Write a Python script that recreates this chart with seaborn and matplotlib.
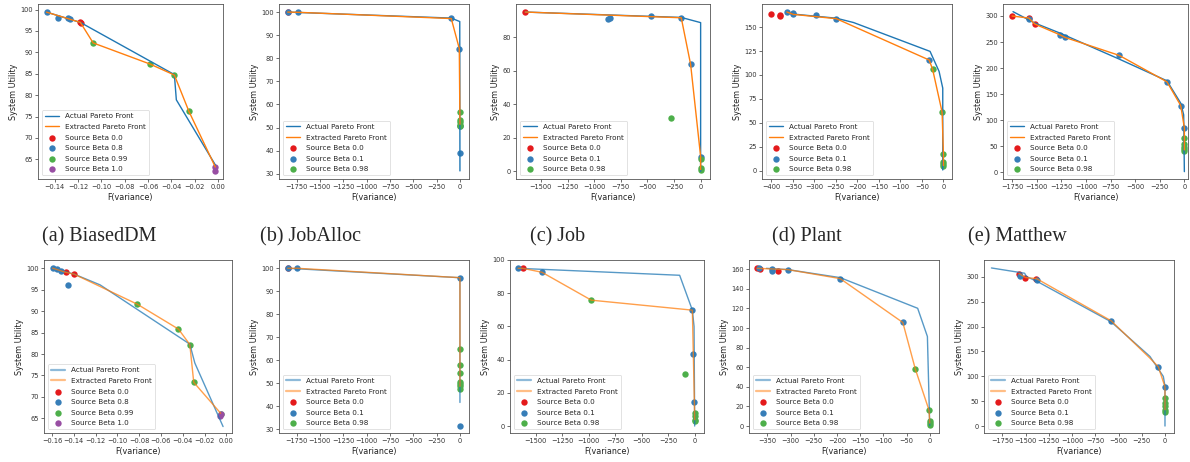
import matplotlib
matplotlib.use("Agg")
import matplotlib.pyplot as plt
import seaborn as sns
from matplotlib.ticker import MultipleLocator

# ==========================================
# DATA ((x, y) pairs)
# ==========================================
# --- top row ---
a1_actual = [(-0.147, 99.4), (-0.118, 97.0), (-0.0374, 84.8), (-0.0357, 78.9), (-0.0023, 63.7)]
a1_extracted = [(-0.147, 99.4), (-0.118, 97.0), (-0.107, 92.2), (-0.0586, 87.3),
                (-0.0374, 84.7), (-0.0249, 76.2), (-0.0023, 63.2)]
a1_b00 = [(-0.1185, 97.1), (-0.1175, 96.9)]
a1_b08 = [(-0.147, 99.4), (-0.137, 98.0), (-0.1286, 98.1), (-0.127, 97.7)]
a1_b099 = [(-0.107, 92.2), (-0.0586, 87.3), (-0.0374, 84.6), (-0.0249, 76.2)]
a1_b10 = [(-0.0023, 63.3), (-0.0028, 62.3)]

b1_actual = [(-1845, 100.0), (-93, 97.4), (-2, 95.9), (0, 31.2)]
b1_extracted = [(-1845, 100.0), (-1731, 99.9), (-93, 97.2), (-7, 84.2), (0, 51.4)]
b1_b00 = [(-1845, 100.0)]
b1_b01 = [(-1845, 100.0), (-1731, 99.9), (-93, 97.3), (-7, 84.2), (0, 50.5), (0, 38.8)]
b1_b098 = [(0, 56.9), (0, 53.3), (0, 52.5), (0, 51.3), (0, 50.8)]

c1_actual = [(-1647, 94.9), (-182, 91.7), (0, 88.6), (0, 0.0)]
c1_extracted = [(-1647, 94.9), (-182, 91.5), (-94, 63.7), (0, 8.8), (0, 1.0)]
c1_b00 = [(-1647, 94.9)]
c1_b01 = [(-866, 90.8), (-848, 91.6), (-470, 92.3), (-182, 91.5), (-94, 63.7), (0, 8.8)]
c1_b098 = [(-279, 31.8), (0, 7.2), (0, 2.2), (0, 1.0)]

d1_actual = [(-364, 165.7), (-349, 163.5), (-249, 159.2), (-209, 154.7), (-31, 124.6),
             (-10, 103.7), (-1.5, 86.3), (-1.5, 1.0)]
d1_extracted = [(-364, 165.7), (-349, 163.2), (-249, 158.7), (-33, 115.6), (-25, 105.8),
                (-3, 61.3), (0, 17.8), (0, 5.6)]
d1_b00 = [(-401, 163.6), (-381, 161.2), (-379, 162.2)]
d1_b01 = [(-364, 165.7), (-349, 163.2), (-349, 164.6), (-297, 162.2), (-249, 158.7), (-33, 115.6)]
d1_b098 = [(-25, 105.8), (-3, 61.3), (0, 17.8), (0, 9.7), (0, 7.3), (0, 5.6)]

e1_actual = [(-1743, 308.3), (-1522, 286.5), (-1267, 267.3), (-663, 217.3), (-177, 175.6),
             (-37, 132.7), (-7, 110.3), (0, 1.3)]
e1_extracted = [(-1753, 300), (-1583, 296), (-1522, 284.6), (-1267, 264), (-1216, 259),
                (-663, 224.4), (-177, 173.7), (-37, 128.2), (0, 85.3), (0, 43)]
e1_b00 = [(-1753, 300), (-1583, 296), (-1522, 284.6)]
e1_b01 = [(-1583, 294.9), (-1267, 264), (-1216, 259), (-663, 224.4), (-177, 173.7),
          (-37, 128.2), (0, 85.3)]
e1_b098 = [(0, 65.4), (0, 54.5), (0, 48), (0, 44.9), (0, 41)]

# --- bottom row ---
a2_actual = [(-0.1594, 100), (-0.1396, 98.6), (-0.1158, 96.1), (-0.0335, 82.3),
             (-0.0289, 77.9), (-0.0030, 63.1)]
a2_extracted = [(-0.1594, 100), (-0.147, 99.0), (-0.1396, 98.6), (-0.0817, 91.6),
                (-0.0439, 85.8), (-0.0335, 82.2), (-0.0299, 73.4), (-0.0052, 66.2)]
a2_b00 = [(-0.147, 99.0), (-0.1396, 98.6)]
a2_b08 = [(-0.1594, 100), (-0.155, 99.8), (-0.1518, 99.3), (-0.1457, 96.0)]
a2_b099 = [(-0.0817, 91.6), (-0.0439, 85.8), (-0.0335, 82.2), (-0.0299, 73.4), (-0.0052, 66.0)]
a2_b10 = [(-0.0052, 66.1), (-0.0058, 65.5)]

b2_actual = [(-1845, 100), (0, 95.9), (0, 41.6)]
b2_extracted = [(-1845, 100), (-1745, 100), (0, 95.9), (0, 48.6)]
b2_b00 = [(-1845, 100)]
b2_b01 = [(-1845, 100), (-1745, 100), (0, 95.9), (0, 31.4)]
b2_b098 = [(0, 64.8), (0, 58.1), (0, 54.6), (0, 50.6), (0, 49.7), (0, 48.6), (0, 47.5)]

c2_actual = [(-1668, 95.0), (-142, 90.8), (-22, 69.8), (-6, 60), (0, 0)]
c2_extracted = [(-1668, 95.0), (-1624, 95.0), (-1442, 92.6), (-976, 75.8), (-22, 69.8),
                (-3, 14.6), (0, 3.8)]
c2_b00 = [(-1624, 95.0)]
c2_b01 = [(-1668, 95.0), (-1442, 92.6), (-22, 69.8), (-13, 43.3), (-3, 14.6)]
c2_b098 = [(-976, 75.8), (-94, 31.1), (0, 7.8), (0, 5.8), (0, 3.8), (0, 2.8)]

d2_actual = [(-352, 161), (-306, 159.7), (-193, 151.5), (-26, 120.2), (-5, 91.4), (0, 0.5)]
d2_extracted = [(-372, 161), (-306, 159.7), (-193, 150.5), (-58, 105.7), (-31, 58.1),
                (-1.4, 16), (0, 3)]
d2_b00 = [(-372, 161), (-365, 160), (-327, 158)]
d2_b01 = [(-367, 161), (-340, 160), (-340, 158.3), (-306, 159.7), (-193, 150.5), (-58, 105.7)]
d2_b098 = [(-31, 58.1), (-1.4, 16), (0, 4.8), (0, 3), (0, 1.4)]

e2_actual = [(-1868, 318), (-1511, 307.4), (-1491, 300.7), (-1373, 290.6), (-579, 209.6),
             (-162, 140), (-18, 99.8), (0, 80), (0, 0)]
e2_extracted = [(-1570, 306.7), (-1502, 298.7), (-1383, 296.6), (-579, 211.6), (-162, 136.6),
                (-72, 119.2), (0, 79), (0, 32.8)]
e2_b00 = [(-1570, 306.7), (-1502, 298.7), (-1383, 296.6)]
e2_b01 = [(-1556, 302.7), (-1373, 293.3), (-579, 211.6), (-72, 119.2), (0, 79)]
e2_b098 = [(0, 56.9), (0, 46.2), (0, 39.5), (0, 32.8), (0, 28.8)]

captions = ["(a) BiasedDM", "(b) JobAlloc", "(c) Job", "(d) Plant", "(e) Matthew"]

# ==========================================
# LAYOUT (pixel boxes: left, right, top, bottom)
# ==========================================
W, H = 1190, 462
set1 = sns.color_palette("Set1")
tab = sns.color_palette("tab10")
beta_colors = {"0.0": set1[0], "0.1": set1[1], "0.8": set1[1],
               "0.98": set1[2], "0.99": set1[2], "1.0": set1[3]}

panels = [
    # top row
    dict(box=(38, 223, 4, 179), actual=a1_actual, extracted=a1_extracted,
         betas=[("0.0", a1_b00), ("0.8", a1_b08), ("0.99", a1_b099), ("1.0", a1_b10)],
         xlim=(-0.1543, 0.0043), ylim=(60.4, 101.3), xstep=0.02, ystep=5, bottom=False),
    dict(box=(279, 469, 4, 179), actual=b1_actual, extracted=b1_extracted,
         betas=[("0.0", b1_b00), ("0.1", b1_b01), ("0.98", b1_b098)],
         xlim=(-1938, 97), ylim=(27.7, 103.5), xstep=250, ystep=10, bottom=False),
    dict(box=(516, 710, 4, 179), actual=c1_actual, extracted=c1_extracted,
         betas=[("0.0", c1_b00), ("0.1", c1_b01), ("0.98", c1_b098)],
         xlim=(-1734, 88), ylim=(-4.6, 99.7), xstep=250, ystep=20, bottom=False),
    dict(box=(762, 952, 4, 179), actual=d1_actual, extracted=d1_extracted,
         betas=[("0.0", d1_b00), ("0.1", d1_b01), ("0.98", d1_b098)],
         xlim=(-421.7, 20), ylim=(-8.4, 174), xstep=50, ystep=25, bottom=False),
    dict(box=(1003, 1188, 4, 179), actual=e1_actual, extracted=e1_extracted,
         betas=[("0.0", e1_b00), ("0.1", e1_b01), ("0.98", e1_b098)],
         xlim=(-1845, 37), ylim=(-12.8, 323), xstep=250, ystep=50, bottom=False),
    # bottom row
    dict(box=(44, 232, 260, 433), actual=a2_actual, extracted=a2_extracted,
         betas=[("0.0", a2_b00), ("0.8", a2_b08), ("0.99", a2_b099), ("1.0", a2_b10)],
         xlim=(-0.1673, 0.0052), ylim=(61.6, 101.9), xstep=0.02, ystep=5, bottom=True),
    dict(box=(279, 469, 260, 433), actual=b2_actual, extracted=b2_extracted,
         betas=[("0.0", b2_b00), ("0.1", b2_b01), ("0.98", b2_b098)],
         xlim=(-1938, 97), ylim=(28.3, 103.6), xstep=250, ystep=10, bottom=True),
    dict(box=(510, 704, 260, 433), actual=c2_actual, extracted=c2_extracted,
         betas=[("0.0", c2_b00), ("0.1", c2_b01), ("0.98", c2_b098)],
         xlim=(-1744, 88), ylim=(-4.2, 100), xstep=250, ystep=20, bottom=True),
    dict(box=(749, 939, 260, 433), actual=d2_actual, extracted=d2_extracted,
         betas=[("0.0", d2_b00), ("0.1", d2_b01), ("0.98", d2_b098)],
         xlim=(-389.6, 20), ylim=(-7.1, 169.5), xstep=50, ystep=20, bottom=True),
    dict(box=(984, 1174, 260, 433), actual=e2_actual, extracted=e2_extracted,
         betas=[("0.0", e2_b00), ("0.1", e2_b01), ("0.98", e2_b098)],
         xlim=(-1948, 97), ylim=(-14, 334), xstep=250, ystep=50, bottom=True),
]

sns.set_style("ticks")
plt.rcParams['font.family'] = ['DejaVu Sans']
fig = plt.figure(figsize=(W / 100, H / 100), dpi=100)

for p in panels:
    l, r, t, b = p["box"]
    ax = fig.add_axes([l / W, 1 - b / H, (r - l) / W, (b - t) / H])
    lw = 1.0
    alpha = 0.75 if p["bottom"] else 1.0
    ax_x, ax_y = zip(*p["actual"])
    ex_x, ex_y = zip(*p["extracted"])
    sns.lineplot(x=list(ax_x), y=list(ax_y), sort=False, estimator=None, color=tab[0],
                 linewidth=lw, alpha=alpha, label="Actual Pareto Front", ax=ax)
    sns.lineplot(x=list(ex_x), y=list(ex_y), sort=False, estimator=None, color=tab[1],
                 linewidth=lw, alpha=alpha, label="Extracted Pareto Front", ax=ax)
    for beta, pts in p["betas"]:
        px, py = zip(*pts)
        sns.scatterplot(x=list(px), y=list(py), color=beta_colors[beta], s=21,
                        linewidth=0, label=f"Source Beta {beta}", ax=ax)

    ax.set_xlim(*p["xlim"])
    ax.set_ylim(*p["ylim"])
    ax.xaxis.set_major_locator(MultipleLocator(p["xstep"]))
    ax.yaxis.set_major_locator(MultipleLocator(p["ystep"]))
    ax.tick_params(labelsize=4.8, length=2, width=0.5, pad=1.5, colors='#333333')
    for sp in ax.spines.values():
        sp.set_linewidth(0.6)
        sp.set_color('#555555')
    ax.set_xlabel("F(variance)", fontsize=5.8, labelpad=2, color='#222222')
    ax.set_ylabel("System Utility", fontsize=5.8, labelpad=2, color='#222222')

    leg = ax.legend(loc="lower left", fontsize=5.2, frameon=True, borderaxespad=0.5,
                    handlelength=2.0, labelspacing=0.62, borderpad=0.45)
    leg.get_frame().set_linewidth(0.5)
    if p["bottom"]:
        for ln in leg.get_lines():
            ln.set_linewidth(1.6)
            ln.set_alpha(0.5)

# captions between the rows
for cap, cx in zip(captions, [99, 310, 558, 807, 1017]):
    fig.text(cx / W, 1 - 237 / H, cap, ha="center", va="center", fontsize=14.5,
             family=["Liberation Serif", "DejaVu Serif"])

fig.savefig("out.png", dpi=100)
